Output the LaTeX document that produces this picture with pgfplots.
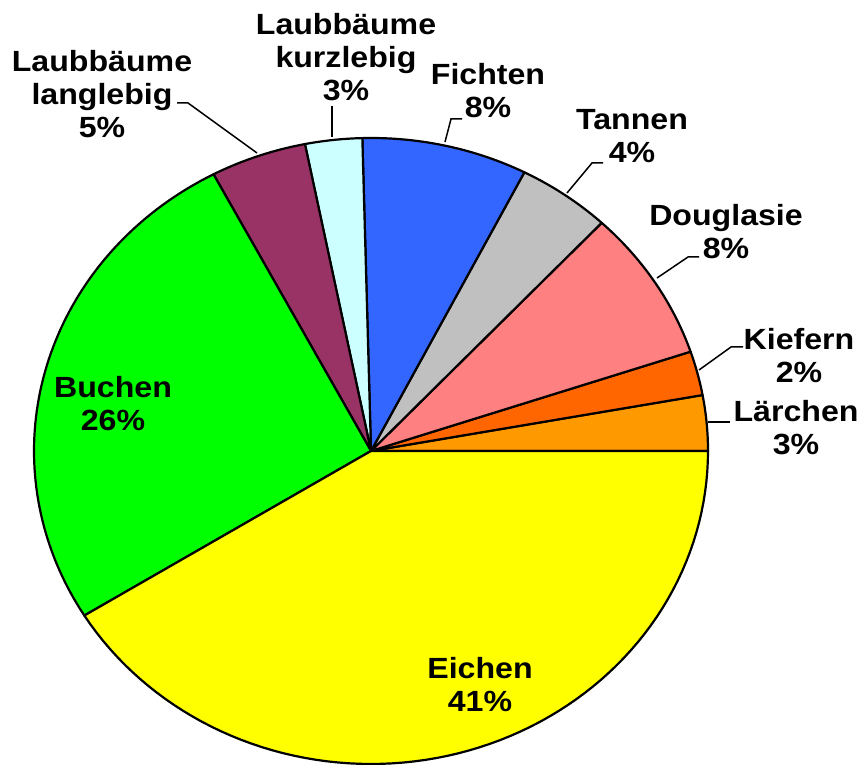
\documentclass[border=0pt]{standalone}
\usepackage{fontspec}
\setmainfont{Liberation Sans}
\usepackage{pgfplots}
\usepackage{pgfplotstable}
\pgfplotsset{compat=1.18}
\definecolor{clarch}{HTML}{FF9900}
\definecolor{cpine}{HTML}{FF6600}
\definecolor{cdoug}{HTML}{FF8080}
\definecolor{cfir}{HTML}{C0C0C0}
\definecolor{cspruce}{HTML}{3366FF}
\definecolor{cshort}{HTML}{CCFFFF}
\definecolor{clong}{HTML}{993366}
\definecolor{cbeech}{HTML}{00FF00}
\definecolor{coak}{HTML}{FFFF00}
\tikzset{lbl/.style={align=center, font=\bfseries\fontsize{14.6}{16.5}\selectfont, xscale=1.1}}

% shares in percent, counter-clockwise from 3 o'clock
\pgfplotstableread{
share colour
2.86 clarch
2.28 cpine
7.86 cdoug
4.48 cfir
7.93 cspruce
2.73 cshort
4.60 clong
26.07 cbeech
41.19 coak
}\slices

\begin{document}
\begin{tikzpicture}
\begin{axis}[
  name=pie,
  width=430pt, height=382pt, scale only axis,
  xmin=0, xmax=860, ymin=0, ymax=764,
  hide axis, clip=false,
]
\pgfplotstablegetrowsof{\slices}
\pgfmathtruncatemacro{\lastrow}{\pgfplotsretval-1}
\def\cum{0}
\pgfplotsforeachungrouped \i in {0,...,\lastrow}{%
  \pgfplotstablegetelem{\i}{share}\of\slices
  \let\share\pgfplotsretval
  \pgfplotstablegetelem{\i}{colour}\of\slices
  \let\col\pgfplotsretval
  \pgfmathsetmacro{\from}{3.6*\cum}
  \pgfmathsetmacro{\to}{3.6*(\cum+\share)}
  \edef\slice{\noexpand\addplot[draw=black, line width=1.1pt, line join=round,
      fill=\col, domain=\from:\to, samples=80, variable=\noexpand\t]
    ({371+337*cos(\noexpand\t)}, {313+313*sin(\noexpand\t)}) -- (371,313) -- cycle;}
  \slice
  \pgfmathsetmacro{\cum}{\cum+\share}
}

% leader lines
\addplot[black, line width=0.75pt] coordinates {(177,661) (188,661) (257,611)};
\addplot[black, line width=0.75pt] coordinates {(332,658) (332,627)};
\addplot[black, line width=0.75pt] coordinates {(462,645) (451,645) (445,622)};
\addplot[black, line width=0.75pt] coordinates {(603,601) (592,601) (567,571)};
\addplot[black, line width=0.75pt] coordinates {(699,507) (688,507) (657,486)};
\addplot[black, line width=0.75pt] coordinates {(743,417) (731,417) (699,394)};
\addplot[black, line width=0.75pt] coordinates {(730,342) (708,342)};

\node[lbl] at (346,707) {Laubbäume\\kurzlebig\\3\%};
\node[lbl] at (102,670) {Laubbäume\\langlebig\\5\%};
\node[lbl] at (488,673) {Fichten\\8\%};
\node[lbl] at (632,628) {Tannen\\4\%};
\node[lbl] at (726,532) {Douglasie\\8\%};
\node[lbl] at (799,408) {Kiefern\\2\%};
\node[lbl] at (796,336) {Lärchen\\3\%};
\node[lbl] at (113,360) {Buchen\\26\%};
\node[lbl] at (480,79) {Eichen\\41\%};
\end{axis}
% the page is exactly the axis area
\pgfresetboundingbox
\path (pie.south west) rectangle (pie.north east);
\end{tikzpicture}
\end{document}
